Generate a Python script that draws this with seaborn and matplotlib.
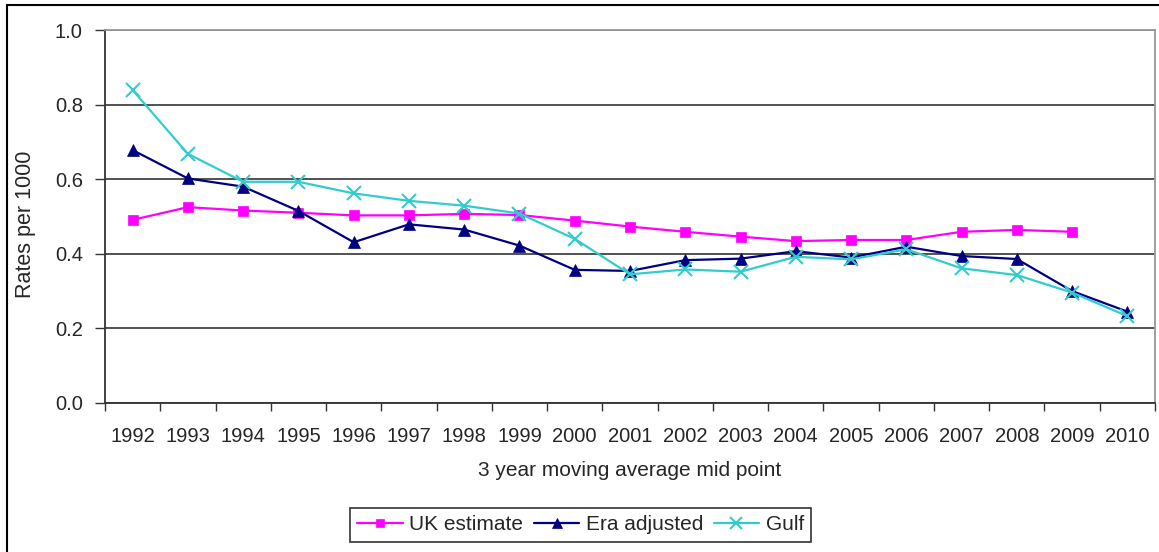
import matplotlib
matplotlib.use("Agg")
import matplotlib.pyplot as plt
from matplotlib.lines import Line2D
from matplotlib.patches import Rectangle
import seaborn as sns
import numpy as np
import pandas as pd

years = ["1992", "1993", "1994", "1995", "1996", "1997", "1998", "1999", "2000",
         "2001", "2002", "2003", "2004", "2005", "2006", "2007", "2008", "2009", "2010"]
uk_estimate = [0.491, 0.525, 0.516, 0.510, 0.503, 0.503, 0.507, 0.504, 0.489,
               0.473, 0.459, 0.446, 0.434, 0.437, 0.437, 0.459, 0.464, 0.459, np.nan]
era_adjusted = [0.678, 0.602, 0.580, 0.515, 0.431, 0.479, 0.465, 0.422, 0.357,
                0.354, 0.383, 0.387, 0.407, 0.390, 0.419, 0.394, 0.386, 0.300, 0.245]
gulf = [0.839, 0.668, 0.593, 0.593, 0.562, 0.542, 0.529, 0.508, 0.440,
        0.345, 0.358, 0.352, 0.392, 0.385, 0.412, 0.361, 0.343, 0.296, 0.233]
series_names = ["UK estimate", "Era adjusted", "Gulf"]
y_ticks = [0.0, 0.2, 0.4, 0.6, 0.8, 1.0]

colors = {"UK estimate": "#FF00FF", "Era adjusted": "#000080", "Gulf": "#33CCCC"}
markers = {"UK estimate": "s", "Era adjusted": "^", "Gulf": "x"}
msizes = {"UK estimate": 7, "Era adjusted": 8, "Gulf": 10}

sns.set_theme(style="white")
plt.rcParams["font.family"] = ["Liberation Sans", "DejaVu Sans"]

fig = plt.figure(figsize=(11.59, 5.52), dpi=100)
ax = fig.add_axes([105 / 1159, 1 - 403 / 552, 1050 / 1159, 373 / 552])

pos = np.arange(len(years))
for name, vals in zip(series_names, [uk_estimate, era_adjusted, gulf]):
    df = pd.DataFrame({"pos": pos, "rate": vals}).dropna()
    sns.lineplot(data=df, x="pos", y="rate", ax=ax, color=colors[name],
                 marker=markers[name], markersize=msizes[name],
                 markeredgecolor=colors[name], markeredgewidth=1.5 if name == "Gulf" else 0.5,
                 linewidth=1.6, zorder=3, legend=False)

ax.set_xlim(-0.5, len(years) - 0.5)
ax.set_ylim(0, 1.0)
ax.set_yticks(y_ticks)
ax.set_yticklabels([f"{v:.1f}" for v in y_ticks], fontsize=14.5)
ax.yaxis.grid(True, color="#333333", linewidth=1.2)
ax.set_axisbelow(True)

# category boundaries carry the tick marks, labels sit at category centers
ax.set_xticks(np.arange(-0.5, len(years), 1.0))
ax.set_xticklabels([])
ax.set_xticks(pos, minor=True)
ax.set_xticklabels(years, minor=True, fontsize=14.5)
ax.tick_params(axis="x", which="major", direction="out", length=6, width=1, color="#333333", bottom=True)
ax.tick_params(axis="x", which="minor", length=0, pad=17)
ax.tick_params(axis="y", direction="out", length=7, width=1, color="#333333", left=True, pad=9)

for side in ["left", "bottom"]:
    ax.spines[side].set_color("#333333")
    ax.spines[side].set_linewidth(1.3)
for side in ["top", "right"]:
    ax.spines[side].set_color("#999999")
    ax.spines[side].set_linewidth(1.3)

ax.set_xlabel("3 year moving average mid point", fontsize=15)
ax.xaxis.set_label_coords(0.5, -0.155)
ax.set_ylabel("Rates per 1000", fontsize=15.5)
ax.yaxis.set_label_coords((36 - 105) / 1050, 0.48)

handles = [Line2D([0], [0], color=colors[n], marker=markers[n], markersize=msizes[n] - 1,
                  markeredgewidth=1.5 if n == "Gulf" else 0.5, linewidth=1.6)
           for n in series_names]
leg = fig.legend(handles, series_names, loc="center", ncol=3,
                 bbox_to_anchor=(580.5 / 1159, 1 - 525 / 552), bbox_transform=fig.transFigure,
                 fontsize=15, frameon=True, fancybox=False, handlelength=2.2,
                 handletextpad=0.3, columnspacing=0.5, borderpad=0.35, borderaxespad=0)
leg.get_frame().set_edgecolor("black")
leg.get_frame().set_linewidth(1.2)

# outer chart frame
fig.patches.append(Rectangle((7 / 1159, -0.1), 1.2, 1 - 5 / 552 + 0.1,
                             transform=fig.transFigure, fill=False,
                             edgecolor="black", linewidth=1.5))

fig.savefig("out.png", dpi=100)
